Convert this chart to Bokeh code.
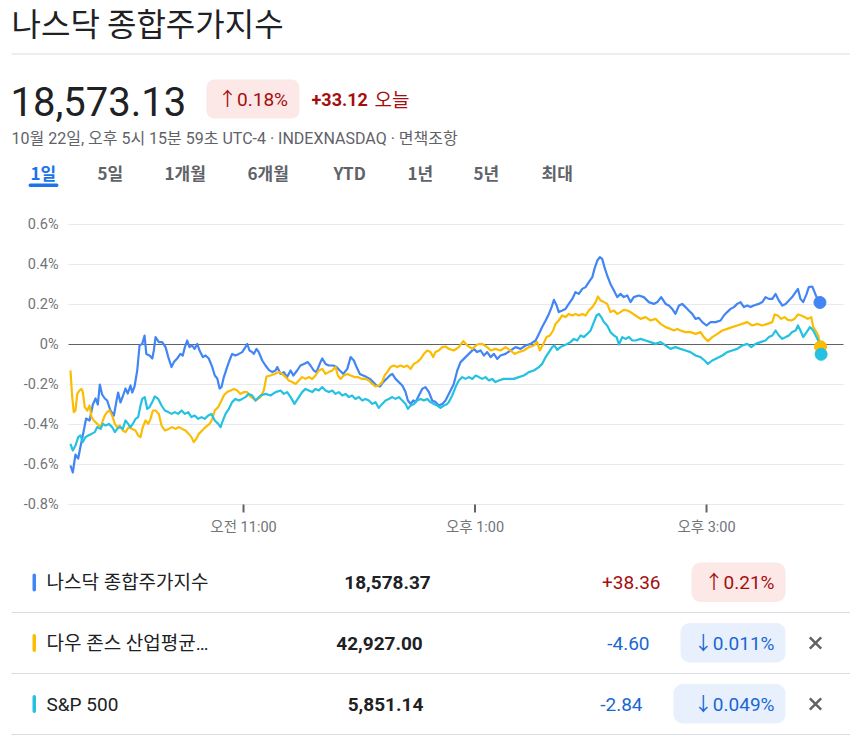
from bokeh.plotting import figure
from bokeh.models import Range1d
from bokeh.layouts import column
from bokeh.core.properties import value
from bokeh.embed import file_html
from bokeh.resources import INLINE

# ---------------- data ----------------
title_text = "나스닥 종합주가지수"
price_text = "18,573.13"
price_pct_text = "↑0.18%"
price_change_text = "+33.12"
today_text = "오늘"
date_text = "10월 22일, 오후 5시 15분 59초 UTC-4 · INDEXNASDAQ · 면책조항"
tab_labels = ["1일", "5일", "1개월", "6개월", "YTD", "1년", "5년", "최대"]

# minutes after 09:30 and % change from previous close
nasdaq_min = [0.3,1.5,2.9,4.3,5.5,7.2,8.4,10.2,11.9,13.3,14.5,15.5,16.7,18.1,19.3,21.0,22.8,24.0,25.0,26.2,
    27.4,28.8,30.0,31.4,32.3,33.5,34.9,36.1,37.5,38.7,39.6,41.3,42.7,43.5,44.4,46.1,47.8,49.6,51.0,52.7,
    53.9,55.6,57.3,58.5,59.6,60.8,62.0,63.4,64.6,66.0,67.2,68.9,70.3,72.0,73.8,75.1,76.4,77.6,78.6,79.8,
    81.5,82.7,84.1,85.8,87.6,89.3,91.0,91.9,93.1,94.5,95.3,96.7,97.9,99.7,101.4,103.1,104.9,106.6,107.5,109.2,
    110.9,112.6,114.4,115.8,117.8,119.5,121.3,123.3,124.7,126.4,127.8,129.9,130.8,132.5,134.2,136.5,138.2,139.9,141.7,143.8,
    145.5,147.2,148.6,150.3,152.0,153.8,155.5,157.2,158.9,160.7,162.4,164.1,165.8,167.1,168.8,170.5,172.3,174.0,175.2,176.6,
    178.0,179.2,180.9,182.6,184.3,186.1,187.8,189.5,191.2,193.0,194.7,197.3,199.0,200.8,202.5,205.1,207.7,209.4,211.1,212.9,
    214.6,216.3,218.1,219.8,221.5,223.2,225.8,228.4,231.0,233.6,236.2,238.8,241.4,243.1,244.8,246.6,248.3,249.7,250.9,252.3,
    253.4,255.2,256.9,258.6,260.4,262.1,263.8,265.6,267.3,269.0,270.8,271.9,273.4,274.7,275.9,277.1,278.5,280.2,282.0,283.7,
    285.4,287.1,288.9,290.6,292.3,294.9,297.5,300.1,302.7,304.5,306.5,308.8,310.5,312.2,313.9,315.7,317.4,319.1,320.8,322.6,
    324.3,326.0,327.8,330.0,332.1,334.7,337.3,339.0,340.7,342.5,344.2,345.9,347.6,349.4,351.1,352.8,354.5,357.1,358.9,360.6,
    362.3,364.1,365.8,367.5,369.3,371.0,372.7,374.4,376.2,377.4,378.7,380.1,381.9,383.0,384.8,386.0,387.4,388.8]
nasdaq_pct = [-0.605,-0.64,-0.55,-0.57,-0.51,-0.43,-0.37,-0.38,-0.30,-0.27,-0.30,-0.20,-0.25,-0.27,-0.28,-0.33,-0.355,-0.29,-0.24,-0.29,
    -0.26,-0.22,-0.245,-0.205,-0.24,-0.21,-0.13,-0.005,0.003,0.045,-0.047,-0.055,-0.07,-0.03,0.037,0.012,0.012,-0.013,-0.063,-0.113,
    -0.088,-0.07,-0.047,-0.055,-0.013,0.02,-0.013,-0.005,-0.022,0.003,-0.03,-0.063,-0.055,-0.07,-0.113,-0.155,-0.17,-0.22,-0.213,-0.163,
    -0.113,-0.08,-0.047,-0.055,-0.047,-0.038,-0.013,0.003,-0.03,-0.038,-0.047,-0.022,-0.038,-0.08,-0.105,-0.127,-0.138,-0.13,-0.113,-0.147,
    -0.138,-0.163,-0.13,-0.155,-0.13,-0.105,-0.097,-0.088,-0.105,-0.13,-0.138,-0.088,-0.07,-0.097,-0.105,-0.105,-0.113,-0.13,-0.147,-0.122,
    -0.063,-0.08,-0.113,-0.147,-0.155,-0.163,-0.172,-0.188,-0.205,-0.21,-0.188,-0.172,-0.155,-0.147,-0.172,-0.188,-0.205,-0.238,-0.28,-0.297,
    -0.28,-0.288,-0.255,-0.222,-0.213,-0.238,-0.28,-0.288,-0.305,-0.297,-0.28,-0.23,-0.197,-0.13,-0.088,-0.063,-0.038,-0.022,-0.038,-0.03,
    -0.055,-0.038,-0.063,-0.047,-0.072,-0.055,-0.047,-0.03,-0.013,-0.022,-0.005,0.003,0.02,0.053,0.087,0.12,0.153,0.187,0.223,0.195,
    0.162,0.17,0.178,0.203,0.228,0.262,0.253,0.278,0.287,0.312,0.337,0.378,0.42,0.437,0.428,0.387,0.345,0.303,0.27,0.237,
    0.253,0.237,0.245,0.212,0.237,0.245,0.237,0.212,0.203,0.212,0.237,0.203,0.195,0.178,0.153,0.195,0.203,0.187,0.17,0.153,
    0.128,0.133,0.112,0.095,0.112,0.112,0.12,0.145,0.162,0.178,0.187,0.203,0.212,0.187,0.195,0.187,0.195,0.203,0.212,0.237,
    0.228,0.228,0.253,0.22,0.195,0.203,0.22,0.237,0.262,0.278,0.228,0.212,0.253,0.287,0.29,0.262,0.228,0.21]

dow_min = [0.3,1.2,2.0,2.9,3.8,5.0,6.0,6.7,7.7,9.0,10.2,11.2,12.4,14.2,15.9,17.1,18.1,19.3,20.5,21.9,
    23.3,24.5,25.9,27.4,28.8,30.5,32.3,34.0,35.4,36.6,37.8,39.2,40.6,41.8,43.0,44.4,46.1,47.5,49.2,51.3,
    53.0,54.7,56.5,58.2,59.9,61.6,63.0,64.2,65.5,66.8,68.6,70.3,72.4,73.8,75.1,76.9,78.6,79.8,81.5,83.3,
    85.0,86.7,88.4,90.2,91.9,93.6,95.3,96.2,98.8,100.5,101.9,104.0,106.1,108.3,110.1,111.8,113.5,115.2,117.0,118.7,
    120.4,122.1,123.8,125.6,127.3,129.0,130.8,132.5,134.2,136.0,137.7,138.9,140.3,142.0,143.8,145.5,147.5,149.2,151.5,153.2,
    155.0,156.7,158.4,160.1,161.9,163.1,164.5,166.2,167.9,169.7,171.4,173.1,174.9,176.6,178.3,180.0,181.8,183.5,185.2,186.9,
    188.3,189.5,191.2,193.0,194.7,196.4,199.0,201.6,203.9,206.0,208.6,211.1,213.7,216.3,218.1,220.6,223.2,225.8,228.4,230.5,
    232.7,235.3,237.9,240.5,242.2,243.6,245.4,247.1,248.8,250.5,251.7,253.4,255.2,256.9,258.6,260.4,262.1,263.8,265.6,267.3,
    269.0,270.8,272.5,273.7,275.1,276.8,278.5,280.2,282.0,283.7,285.4,287.1,288.9,290.6,293.2,295.8,298.4,301.0,303.6,306.2,
    308.8,311.3,313.1,314.9,316.5,319.1,321.7,324.3,326.9,328.6,330.7,333.0,335.6,338.2,340.7,343.3,345.9,348.5,351.1,353.7,
    356.3,358.9,361.5,364.1,365.3,367.0,368.7,370.4,372.2,373.9,375.6,377.4,379.1,380.8,382.6,384.3,385.3,386.5,387.9,389.1]
dow_pct = [-0.13,-0.263,-0.338,-0.33,-0.247,-0.23,-0.222,-0.238,-0.313,-0.33,-0.305,-0.363,-0.38,-0.397,-0.413,-0.38,-0.355,-0.338,-0.33,-0.355,
    -0.397,-0.413,-0.405,-0.43,-0.438,-0.413,-0.422,-0.43,-0.455,-0.463,-0.413,-0.38,-0.397,-0.372,-0.33,-0.33,-0.347,-0.405,-0.43,-0.422,
    -0.413,-0.422,-0.413,-0.422,-0.43,-0.447,-0.463,-0.488,-0.472,-0.447,-0.43,-0.413,-0.397,-0.372,-0.33,-0.313,-0.28,-0.255,-0.238,-0.23,
    -0.222,-0.23,-0.247,-0.238,-0.238,-0.26,-0.272,-0.28,-0.263,-0.23,-0.16,-0.155,-0.147,-0.138,-0.147,-0.163,-0.18,-0.188,-0.197,-0.18,
    -0.163,-0.172,-0.163,-0.172,-0.155,-0.13,-0.122,-0.147,-0.138,-0.13,-0.113,-0.155,-0.172,-0.155,-0.147,-0.155,-0.163,-0.163,-0.172,-0.172,
    -0.18,-0.197,-0.21,-0.205,-0.188,-0.155,-0.138,-0.113,-0.105,-0.113,-0.105,-0.113,-0.105,-0.122,-0.097,-0.088,-0.072,-0.047,-0.03,-0.038,
    -0.063,-0.038,-0.03,-0.013,-0.01,-0.022,-0.03,-0.013,0.017,-0.005,-0.022,0.0,0.003,-0.013,-0.03,-0.022,-0.03,-0.013,-0.03,-0.047,
    -0.038,-0.03,-0.013,-0.005,0.012,-0.03,0.003,0.037,0.045,0.07,0.103,0.12,0.145,0.137,0.153,0.145,0.153,0.145,0.153,0.145,
    0.17,0.187,0.212,0.24,0.22,0.212,0.203,0.162,0.17,0.153,0.162,0.173,0.17,0.162,0.145,0.128,0.137,0.12,0.128,0.103,
    0.087,0.078,0.07,0.078,0.07,0.062,0.062,0.053,0.062,0.037,0.017,0.037,0.053,0.07,0.078,0.087,0.095,0.103,0.112,0.095,
    0.103,0.095,0.103,0.112,0.15,0.145,0.128,0.137,0.123,0.12,0.128,0.15,0.145,0.137,0.128,0.137,0.087,0.07,0.045,-0.011]

sp_min = [0.3,1.5,2.9,4.3,5.5,6.7,8.1,9.5,11.2,12.9,14.2,15.9,17.1,18.5,20.2,21.9,23.3,24.5,25.9,27.4,
    28.8,30.2,31.4,32.6,34.0,35.4,36.6,37.5,38.8,40.1,41.3,42.7,44.0,45.8,47.5,49.2,51.0,52.7,54.4,56.1,
    57.9,59.6,61.3,63.0,64.7,66.5,68.2,69.9,71.7,73.4,75.1,76.9,78.1,79.3,80.7,82.4,84.1,85.8,87.6,89.3,
    91.0,92.7,94.5,96.2,98.8,101.4,104.0,106.6,109.2,110.9,112.6,114.4,116.4,118.1,120.4,122.1,123.8,125.6,127.3,129.0,
    130.8,132.5,134.2,136.0,137.7,139.4,141.2,142.9,144.6,146.3,148.0,149.8,151.5,153.2,155.0,156.7,158.4,160.1,161.9,163.6,
    165.3,167.1,168.8,170.5,172.3,174.0,175.2,176.6,178.3,180.0,181.8,183.5,185.2,186.9,188.7,190.4,192.1,193.8,195.6,196.4,
    198.2,199.9,201.6,203.4,205.1,206.8,208.6,210.3,212.0,213.7,215.4,217.2,218.9,220.6,222.3,224.9,227.5,230.1,232.7,235.3,
    237.9,240.5,243.1,244.8,246.6,248.3,250.0,251.2,252.6,254.3,256.0,257.8,259.5,261.2,263.0,264.7,266.4,268.2,269.9,271.6,
    273.0,274.2,275.4,276.8,278.5,280.2,282.0,283.4,284.6,286.3,288.0,289.8,291.5,293.2,295.8,298.4,301.0,303.6,306.2,308.8,
    311.3,313.9,316.5,319.1,321.7,324.3,326.9,329.0,330.7,333.0,335.6,338.2,340.7,343.3,345.9,348.5,351.1,353.2,355.4,358.0,
    360.6,362.3,364.1,365.8,367.5,369.3,371.0,372.7,374.4,376.2,377.4,378.7,380.1,381.9,383.6,385.3,387.0,388.8,389.4]
sp_pct = [-0.497,-0.53,-0.505,-0.463,-0.455,-0.488,-0.463,-0.455,-0.447,-0.438,-0.413,-0.422,-0.397,-0.405,-0.397,-0.413,-0.438,-0.422,-0.413,-0.422,
    -0.38,-0.397,-0.413,-0.397,-0.372,-0.363,-0.305,-0.272,-0.263,-0.322,-0.313,-0.288,-0.26,-0.272,-0.305,-0.33,-0.338,-0.347,-0.338,-0.347,
    -0.33,-0.347,-0.338,-0.363,-0.355,-0.372,-0.363,-0.372,-0.355,-0.347,-0.38,-0.397,-0.413,-0.38,-0.347,-0.322,-0.288,-0.272,-0.28,-0.272,
    -0.263,-0.247,-0.255,-0.28,-0.255,-0.247,-0.255,-0.238,-0.23,-0.247,-0.238,-0.263,-0.297,-0.272,-0.238,-0.222,-0.23,-0.238,-0.222,-0.23,
    -0.213,-0.23,-0.238,-0.23,-0.247,-0.238,-0.255,-0.247,-0.263,-0.255,-0.272,-0.263,-0.28,-0.272,-0.28,-0.297,-0.288,-0.317,-0.297,-0.28,
    -0.272,-0.263,-0.272,-0.263,-0.28,-0.297,-0.322,-0.305,-0.297,-0.28,-0.272,-0.28,-0.272,-0.288,-0.297,-0.305,-0.317,-0.305,-0.297,-0.288,
    -0.255,-0.213,-0.18,-0.163,-0.172,-0.163,-0.172,-0.155,-0.163,-0.172,-0.163,-0.18,-0.172,-0.188,-0.18,-0.172,-0.172,-0.172,-0.163,-0.155,
    -0.138,-0.13,-0.113,-0.097,-0.063,-0.038,-0.013,-0.005,-0.027,-0.013,-0.005,0.003,0.012,0.028,0.02,0.045,0.037,0.053,0.07,0.112,
    0.145,0.153,0.137,0.112,0.095,0.062,0.045,0.037,0.0,0.037,0.028,0.037,0.02,0.02,0.028,0.02,0.012,0.003,0.012,-0.005,
    -0.022,-0.013,-0.022,-0.03,-0.038,-0.055,-0.063,-0.08,-0.097,-0.08,-0.067,-0.055,-0.038,-0.03,-0.022,-0.005,0.003,-0.013,0.003,0.012,
    0.02,0.037,0.045,0.07,0.045,0.028,0.037,0.045,0.062,0.07,0.095,0.07,0.037,0.062,0.087,0.07,0.037,0.003,-0.049]

y_ticks = [-0.8, -0.6, -0.4, -0.2, 0, 0.2, 0.4, 0.6]
y_labels = ["-0.8%", "-0.6%", "-0.4%", "-0.2%", "0%", "0.2%", "0.4%", "0.6%"]
x_ticks = [90, 210, 330]
x_labels = ["오전 11:00", "오후 1:00", "오후 3:00"]

row_names = ["나스닥 종합주가지수", "다우 존스 산업평균…", "S&P 500"]
row_values = ["18,578.37", "42,927.00", "5,851.14"]
row_changes = ["+38.36", "-4.60", "-2.84"]
row_pcts = ["↑0.21%", "↓0.011%", "↓0.049%"]
row_up = [True, False, False]

series_colors = ["#4285f4", "#fbbc04", "#24c1e0"]

# ---------------- styles ----------------
KR = value("Noto Sans CJK KR")
RB = value("Roboto")
MIX = value("Roboto, Noto Sans CJK KR")
W = 850
RED, RED_BG = "#a50e0e", "#fce8e6"
BLUE, BLUE_BG = "#1967d2", "#e8f0fe"
DARK, GREY, LGREY = "#202124", "#5f6368", "#70757a"


def canvas(h, x_range, y_range):
    p = figure(width=W, height=h, x_range=x_range, y_range=y_range,
               output_backend="svg", toolbar_location=None, min_border=0,
               x_axis_location=None, y_axis_location=None)
    p.xgrid.visible = False
    p.ygrid.visible = False
    p.outline_line_color = None
    return p


# ---------------- header (pixel layout) ----------------
hd = canvas(195, Range1d(0, W), Range1d(195, 0))
hd.text(x=[11], y=[21], text=[title_text], text_font=KR, text_font_size="32px",
        text_color=DARK, text_baseline="middle")
hd.segment(x0=[11], y0=[53.5], x1=[W], y1=[53.5], line_color="#dadce0", line_width=1)
hd.text(x=[10], y=[101], text=[price_text], text_font=RB, text_font_size="40px",
        text_color=DARK, text_baseline="middle")
hd.quad(left=[206], right=[299], top=[79], bottom=[118], fill_color=RED_BG,
        line_color=None, border_radius=8)
hd.text(x=[252.5], y=[99], text=[price_pct_text], text_font=MIX, text_font_size="19px",
        text_color=RED, text_align="center", text_baseline="middle")
hd.text(x=[311], y=[99], text=[price_change_text], text_font=RB, text_font_size="18px",
        text_font_style="bold", text_color=RED, text_baseline="middle")
hd.text(x=[374], y=[98], text=[today_text], text_font=KR, text_font_size="19px",
        text_color=RED, text_baseline="middle")
hd.text(x=[11], y=[138], text=[date_text], text_font=MIX, text_font_size="16px",
        text_color=GREY, text_baseline="middle")
tab_x = [30, 97, 164, 247, 333, 407, 473, 541]
hd.text(x=tab_x, y=[172] * len(tab_x), text=tab_labels, text_font=KR, text_font_size="17px",
        text_font_style="bold",
        text_color=["#1a73e8"] + [GREY] * (len(tab_x) - 1), text_baseline="middle")
hd.quad(left=[28], right=[58], top=[183], bottom=[186.5], fill_color="#1a73e8",
        line_color=None, border_radius=2)

# ---------------- chart ----------------
px_per_min = 463.0 / 240.0       # horizontal scale
px_per_pct = 200.0               # vertical scale
x0_px, zero_px, top_px, h_chart = 69.4, 344.0, 195.0, 350
ch = canvas(h_chart,
            Range1d(-x0_px / px_per_min, (W - x0_px) / px_per_min),
            Range1d((zero_px - top_px - h_chart) / px_per_pct, (zero_px - top_px) / px_per_pct))
g_lo, g_hi = (68 - x0_px) / px_per_min, (843 - x0_px) / px_per_min
y_min = min(y_ticks)

# grid lines
ch.segment(x0=[g_lo] * len(y_ticks), x1=[g_hi] * len(y_ticks), y0=y_ticks, y1=y_ticks,
           line_color=["#5f6368" if t == 0 else "#e8eaed" for t in y_ticks],
           line_width=[1.2 if t == 0 else 1 for t in y_ticks])
# y tick labels
ch.text(x=[g_lo] * len(y_ticks), y=y_ticks, text=y_labels, x_offset=-10,
        text_font=RB, text_font_size="14.5px", text_color=LGREY,
        text_align="right", text_baseline="middle")
# x ticks + labels
ch.segment(x0=x_ticks, x1=x_ticks, y0=[y_min] * 3, y1=[y_min - 8 / px_per_pct] * 3,
           line_color=GREY, line_width=2)
ch.text(x=x_ticks, y=[y_min] * 3, text=x_labels, y_offset=23,
        text_font=MIX, text_font_size="14.5px", text_color=LGREY,
        text_align="center", text_baseline="middle")

series = [(nasdaq_min, nasdaq_pct), (dow_min, dow_pct), (sp_min, sp_pct)]
for (xs, ys), c in zip(series, series_colors):
    ch.line(xs, ys, line_color=c, line_width=2.2, line_join="round")
for (xs, ys), c in zip(series, series_colors):
    ch.scatter([xs[-1]], [ys[-1]], size=12, fill_color=c, line_color=c)

# ---------------- table (pixel layout) ----------------
tb = canvas(195, Range1d(0, W), Range1d(740, 545))
row_y = [582, 642.5, 703.5]
for yy in [612, 673, 734]:
    tb.segment(x0=[11], y0=[yy], x1=[W], y1=[yy], line_color="#dadce0", line_width=1)
tb.quad(left=[32] * 3, right=[35.5] * 3, top=[y - 9 for y in row_y],
        bottom=[y + 9 for y in row_y], fill_color=series_colors, line_color=None,
        border_radius=2)
tb.text(x=[46] * 3, y=row_y, text=row_names, text_font=MIX, text_font_size="19px",
        text_color=DARK, text_baseline="middle")
tb.text(x=[387, 379, 385], y=row_y, text=row_values, text_font=RB, text_font_size="19px",
        text_font_style="bold", text_color=DARK, text_align="center", text_baseline="middle")
chg_colors = [RED if u else BLUE for u in row_up]
bg_colors = [RED_BG if u else BLUE_BG for u in row_up]
badge_left = [691, 680, 673]
tb.text(x=[b - 31 for b in badge_left], y=row_y, text=row_changes, text_font=RB,
        text_font_size="19px", text_color=chg_colors, text_align="right",
        text_baseline="middle")
tb.quad(left=badge_left, right=[785] * 3, top=[y - 20 for y in row_y],
        bottom=[y + 19.5 for y in row_y], fill_color=bg_colors, line_color=None,
        border_radius=9)
tb.text(x=[774] * 3, y=row_y, text=row_pcts, text_font=MIX, text_font_size="19px",
        text_color=chg_colors, text_align="right", text_baseline="middle")
tb.scatter(x=[815, 815], y=row_y[1:], marker="x", size=16, line_color=GREY, line_width=2.5)

layout = column(hd, ch, tb, spacing=0)
open("out.html", "w").write(file_html(layout, INLINE))
